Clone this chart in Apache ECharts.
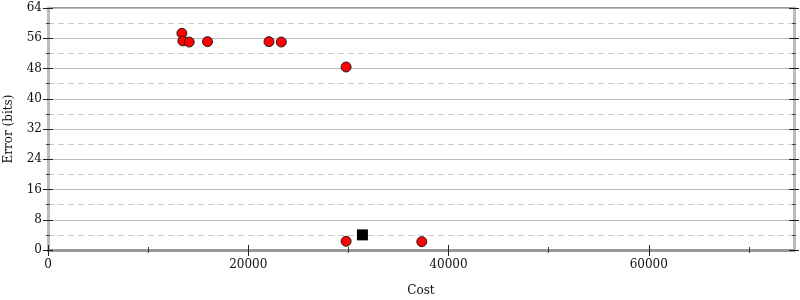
<!DOCTYPE html>
<html><head><meta charset="utf-8">
<script src="https://cdn.jsdelivr.net/npm/echarts@6/dist/echarts.min.js"></script>
<style>html,body{margin:0;padding:0;background:#fff}#c{width:800px;height:300px}</style>
</head><body><div id="c"></div>
<script>
// Data
const redCost  = [13370, 13470, 14100, 15930, 22070, 23300, 29770, 29770, 37330];
const redError = [57.3, 55.3, 55.0, 55.1, 55.1, 55.0, 48.4, 2.3, 2.2];
const blackCost  = [31400];
const blackError = [4.0];
const xMax = 74500;
const yMax = 64;

const font = 'DejaVu Serif';
const fs = 12;
const txt = '#111';
const chart = echarts.init(document.getElementById('c'), null, {renderer: 'canvas'});

function xAx(inside, withLabels) {
  return {
    type: 'value', min: 0, max: xMax, interval: 20000, position: 'bottom',
    name: withLabels ? 'Cost' : '', nameLocation: 'middle', nameGap: 35,
    nameTextStyle: {fontFamily: font, fontSize: fs, color: txt},
    axisLine: {show: withLabels, lineStyle: {color: '#999', width: 3}},
    axisTick: {show: true, inside: inside, length: inside ? 5 : 6, lineStyle: {color: '#222', width: 1},
      customValues: [0, 20000, 40000, 60000]},
    minorTick: {show: true, splitNumber: 2, length: 3, lineStyle: {color: '#444', width: 1}},
    axisLabel: {show: withLabels, fontFamily: font, fontSize: fs, color: txt, margin: 9,
      showMaxLabel: false, formatter: v => (v % 20000 === 0 ? String(v) : '')},
    splitLine: {show: false}, minorSplitLine: {show: false}
  };
}
function yAx(pos, inside, withLabels, grid) {
  return {
    type: 'value', min: 0, max: yMax, interval: 8, position: pos,
    name: withLabels ? 'Error (bits)' : '', nameLocation: 'middle', nameGap: 33,
    nameTextStyle: {fontFamily: font, fontSize: fs, color: txt},
    axisLine: {show: true, lineStyle: {color: '#bbb', width: 3}},
    axisTick: {show: true, inside: inside, length: 5, lineStyle: {color: '#222', width: 1}},
    minorTick: {show: true, splitNumber: 2, length: 2, lineStyle: {color: '#444', width: 1}},
    axisLabel: {show: withLabels, fontFamily: font, fontSize: fs, color: txt, margin: 6},
    splitLine: {show: grid, lineStyle: {color: '#bbb', width: 1, type: 'solid'}},
    minorSplitLine: {show: grid, lineStyle: {color: '#ccc', width: 1, type: [6, 4]}}
  };
}

chart.setOption({
  animation: false,
  backgroundColor: '#fff',
  grid: {left: 48, right: 6, top: 8, bottom: 50, show: true, borderColor: '#999', borderWidth: 2,
         containLabel: false, outerBoundsMode: 'none'},
  xAxis: [xAx(false, true), xAx(true, false)],
  yAxis: [yAx('left', false, true, true), yAx('left', true, false, false),
          yAx('right', false, false, false), yAx('right', true, false, false)],
  series: [
    {type: 'scatter', xAxisIndex: 0, yAxisIndex: 0, symbol: 'circle', symbolSize: 10,
     itemStyle: {color: '#f00', borderColor: '#222', borderWidth: 1, opacity: 1},
     data: redCost.map((c, i) => [c, redError[i]])},
    {type: 'scatter', xAxisIndex: 0, yAxisIndex: 0, symbol: 'rect', symbolSize: 11,
     itemStyle: {color: '#000', opacity: 1},
     data: blackCost.map((c, i) => [c, blackError[i]])}
  ]
});
</script></body></html>
